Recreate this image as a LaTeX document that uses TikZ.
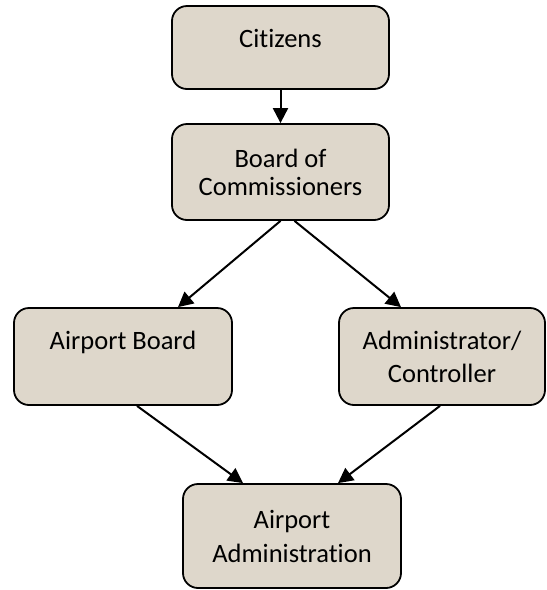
\documentclass[tikz,border=0pt]{standalone}
\usepackage{fontspec}
\setmainfont{Carlito}[Ligatures=CommonOff]
\usetikzlibrary{arrows.meta}

\definecolor{boxfill}{RGB}{222,215,203}

\begin{document}
\begin{tikzpicture}[x=1pt, y=-1pt,
    orgbox/.style={draw, line width=1.8pt, rounded corners=15pt, fill=boxfill,
      align=center, inner sep=0pt, font=\fontsize{26.5}{31}\selectfont},
    arr/.style={-{Triangle[length=15pt,width=15pt]}, line width=2pt}]
  \useasboundingbox (0,0) rectangle (547,590);

  \node (cit) at (280.5, 47.5) [orgbox, minimum width=217pt, minimum height=83pt, text height=18pt, text depth=19pt] {Citizens};
  \node (board) at (280.5, 172) [orgbox, minimum width=217pt, minimum height=96pt] {Board of\\[-3pt] Commissioners};
  \node (apb) at (123, 356.5) [orgbox, minimum width=218pt, minimum height=97pt, text height=18pt, text depth=33pt] {Airport Board};
  \node (admin) at (442, 356.5) [orgbox, minimum width=206pt, minimum height=97pt] {Administrator/\\[2pt] Controller};
  \node (apadm) at (292, 536) [orgbox, minimum width=218pt, minimum height=104pt] {Airport\\[3pt] Administration};

  \draw[arr] (cit) -- (board);
  \draw[arr] (board.south) -- ([xshift=55pt]apb.north);
  \draw[arr] ([xshift=14pt]board.south) -- ([xshift=-41pt]admin.north);
  \draw[arr] ([xshift=14pt]apb.south) -- ([xshift=-49pt]apadm.north);
  \draw[arr] ([xshift=-2pt]admin.south) -- ([xshift=46pt]apadm.north);
\end{tikzpicture}
\end{document}
